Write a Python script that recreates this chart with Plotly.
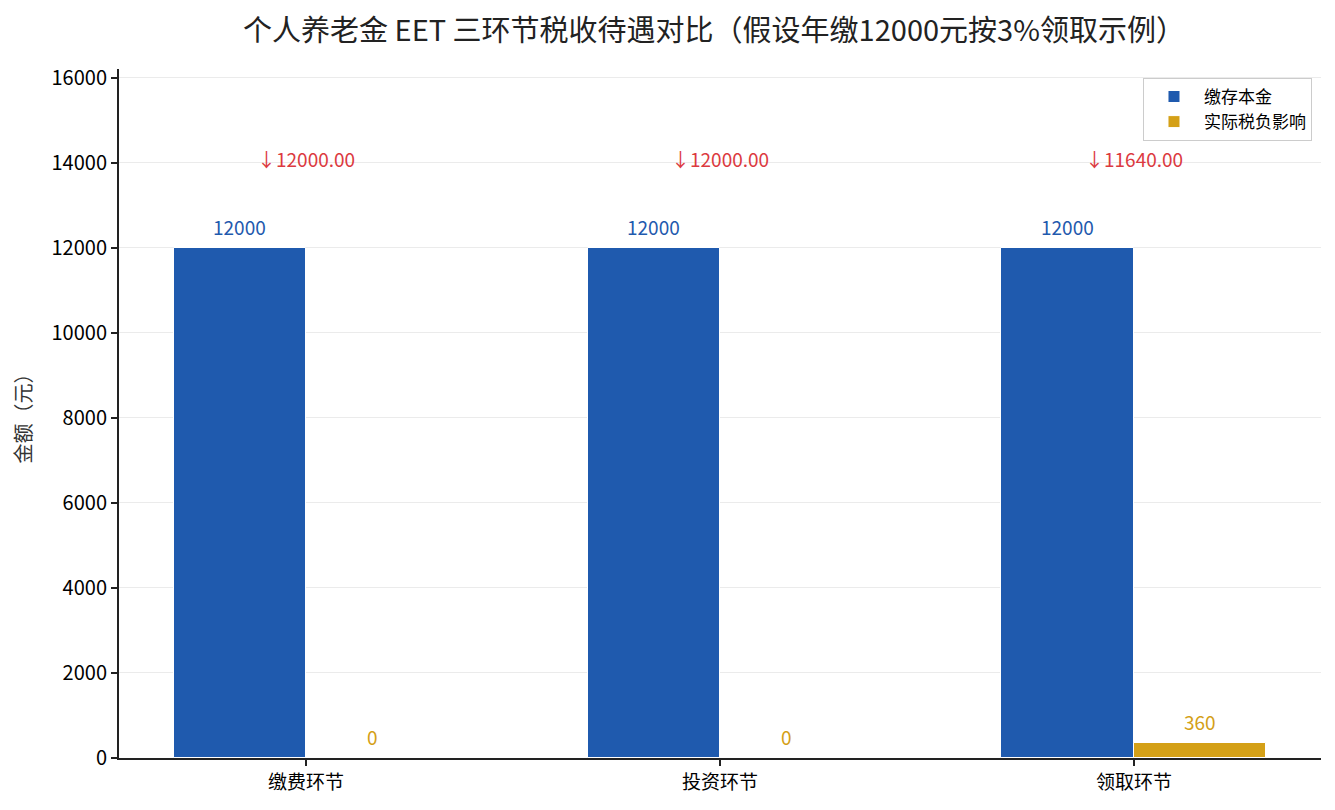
import plotly.graph_objects as go

# donnees
categories = ["缴费环节", "投资环节", "领取环节"]
principal = [12000, 12000, 12000]   # 缴存本金
tax_impact = [0, 0, 360]            # 实际税负影响
net_amount = [12000, 12000, 11640]  # montant net (fleche rouge)
yticks = [0, 2000, 4000, 6000, 8000, 10000, 12000, 14000, 16000]

blue = "#1f5aae"
gold = "#d4a017"
red = "#dc3a3f"
font_cjk = "Noto Sans CJK SC"
w = 0.32

xpos = list(range(len(categories)))

fig = go.Figure()

fig.add_trace(go.Bar(
    name="缴存本金", x=xpos, y=principal, width=w, offset=-w,
    marker_color=blue, marker_line=dict(color="white", width=1),
    hoverinfo="none",
))
fig.add_trace(go.Bar(
    name="实际税负影响", x=xpos, y=tax_impact, width=w, offset=0,
    marker_color=gold, marker_line=dict(color="white", width=1),
    hoverinfo="none",
))

# etiquettes des valeurs au-dessus des barres
for i in xpos:
    fig.add_annotation(x=i - w / 2, y=principal[i] + 500, text=str(principal[i]),
                       showarrow=False, yanchor="middle",
                       font=dict(family=font_cjk, size=19, color=blue))
    fig.add_annotation(x=i + w / 2, y=tax_impact[i] + 500, text=str(tax_impact[i]),
                       showarrow=False, yanchor="middle",
                       font=dict(family=font_cjk, size=19, color=gold))
    fig.add_annotation(x=i, y=max(principal) * 1.175, text="↓" + f"{net_amount[i]:.2f}",
                       showarrow=False, yanchor="middle",
                       font=dict(family=font_cjk, size=19, color=red))

# la page a une marge de 8px (body), on compense dans les marges
fig.update_layout(
    title=dict(text="个人养老金 EET 三环节税收待遇对比（假设年缴12000元按3%领取示例）",
               x=0.495, xref="paper", xanchor="center", y=0.972, yanchor="middle",
               font=dict(family=font_cjk, size=29, color="#222222")),
    width=1335, height=810,
    margin=dict(l=111, r=22, t=61, b=60),
    plot_bgcolor="white", paper_bgcolor="white",
    bargap=0, barmode="overlay",
    font=dict(family=font_cjk, size=20, color="black"),
    legend=dict(x=0.9925, y=0.987, xanchor="right", yanchor="top",
                bordercolor="#cccccc", borderwidth=1, bgcolor="white",
                font=dict(family=font_cjk, size=17, color="black"),
                itemwidth=50),
)

fig.update_xaxes(
    range=[-0.452, 2.452], tickmode="array", tickvals=xpos, ticktext=categories,
    showline=True, linecolor="#222222", linewidth=2,
    ticks="outside", ticklen=6, tickcolor="#222222", tickwidth=1.5,
    showgrid=False, zeroline=False,
    tickfont=dict(family=font_cjk, size=19, color="black"),
)
fig.update_yaxes(
    range=[0, 16200], tickmode="array", tickvals=yticks,
    ticktext=[str(v) for v in yticks],
    showline=True, linecolor="#222222", linewidth=2,
    ticks="outside", ticklen=6, tickcolor="#222222", tickwidth=1.5,
    showgrid=True, gridcolor="#ebebeb", gridwidth=1, zeroline=False,
    layer="above traces",
    title=dict(text="金额（元）", font=dict(family=font_cjk, size=20, color="#333333"),
               standoff=16),
    tickfont=dict(family=font_cjk, size=20, color="black"),
)

fig.write_html("out.html")
